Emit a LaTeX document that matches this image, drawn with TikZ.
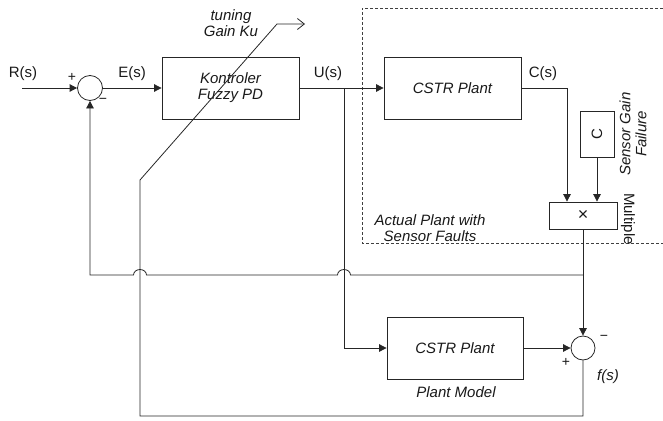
\documentclass[tikz,border=0pt]{standalone}
\usepackage{fontspec}
\setmainfont{Liberation Sans}
\usetikzlibrary{arrows.meta}
\begin{document}
\begin{tikzpicture}[x=1pt,y=-1pt,
  every node/.style={font=\fontsize{15}{16}\selectfont, inner sep=0pt, text=black!90},
  box/.style={draw=black!85, line width=0.8pt},
  sumj/.style={draw=black!85, line width=0.8pt, circle, minimum size=25pt},
  wire/.style={draw=black!85, line width=0.8pt},
  sig/.style={wire, -{Triangle[length=7.5pt,width=7.5pt]}},
  ilbl/.style={font=\fontsize{15}{16}\selectfont\itshape},
  sgn/.style={font=\fontsize{14}{15}\selectfont}]
\useasboundingbox (0,0) rectangle (663,420);

% frame of the real plant with its faulty sensor
\draw[black!75, line width=0.7pt, dash pattern=on 3pt off 2pt]
  (663,8) -- (362,8) -- (362,243) -- (663,243);

% blocks
\node[sumj] (sumA) at (90,88) {};
\node[box, ilbl, minimum width=137pt, minimum height=62pt, align=center] (ctrl) at (230.5,88) {Kontroler\\Fuzzy PD};
\node[box, ilbl, minimum width=137pt, minimum height=62pt] (plant) at (452.5,88) {CSTR Plant};
\node[box, minimum width=34pt, minimum height=46pt] (cgain) at (597,134) {};
\node[rotate=90] (cgainlbl) at (cgain) {C};
\node[box, minimum width=68pt, minimum height=27pt] (mult) at (583,215.5) {};
\node[font=\fontsize{18}{18}\selectfont] (multlbl) at (mult) {×};
\node[box, ilbl, minimum width=136pt, minimum height=62pt] (model) at (455,348) {CSTR Plant};
\node[sumj, minimum size=24pt] (sumB) at (583,348) {};

% branch and bend points
\coordinate (rin) at (22,88);
\coordinate (tap) at (344,88);
\coordinate (fb) at (583,275);
\coordinate (kneeL) at (140,416);
\coordinate (kneeU) at (140,180);
\coordinate (tuneBend) at (277,24);
\coordinate (tuneTip) at (305,24);

% signal paths
\draw[sig] (rin) -- (sumA);
\draw[sig] (sumA) -- (ctrl);
\draw[sig] (ctrl) -- (plant);
\draw[sig] (plant.east) -| ([xshift=-16pt]mult.north);
\draw[sig] (cgain.south) -- (cgain.south |- mult.north);
\draw[sig] (mult.south) -- (sumB.north);
\draw[sig] (tap) |- (model.west);
\draw[sig] (model) -- (sumB);

% feedback with line jumps over the crossing wires
\draw[sig] (fb) -- ([xshift=6.5pt]tap |- fb)
  arc[start angle=0, end angle=180, x radius=6.5pt, y radius=5.5pt]
  -- ([xshift=6.5pt]kneeL |- fb)
  arc[start angle=0, end angle=180, x radius=6.5pt, y radius=5.5pt]
  -| (sumA.south);

% residual fed to the gain tuning
\draw[wire, -{Straight Barb[length=7pt,width=11pt]}]
  (sumB.south) |- (kneeL) -- (kneeU) -- (tuneBend) -- (tuneTip);

% labels
\node (lR) at (23,74) {R(s)};
\node (lE) at (132,74) {E(s)};
\node (lU) at (328,74) {U(s)};
\node (lC) at (543,74) {C(s)};
\node[sgn] (pA) at (72,77) {+};
\node[sgn] (mA) at (103,101) {−};
\node[sgn] (pB) at (566,362) {+};
\node[sgn] (mB) at (604,338) {−};
\node[ilbl] (lf) at (608,377) {f(s)};
\node[ilbl, align=center] (ltune) at (231,23) {tuning\\Gain Ku};
\node[ilbl, align=center] (lactual) at (430,228) {Actual Plant with\\Sensor Faults};
\node[ilbl] (lmodel) at (456,392) {Plant Model};
\node[ilbl, rotate=90, align=center] (lsensor) at (633,134) {Sensor Gain\\Failure};
\node[rotate=-90] (lmult) at (628,219) {Multiple};
\end{tikzpicture}
\end{document}
